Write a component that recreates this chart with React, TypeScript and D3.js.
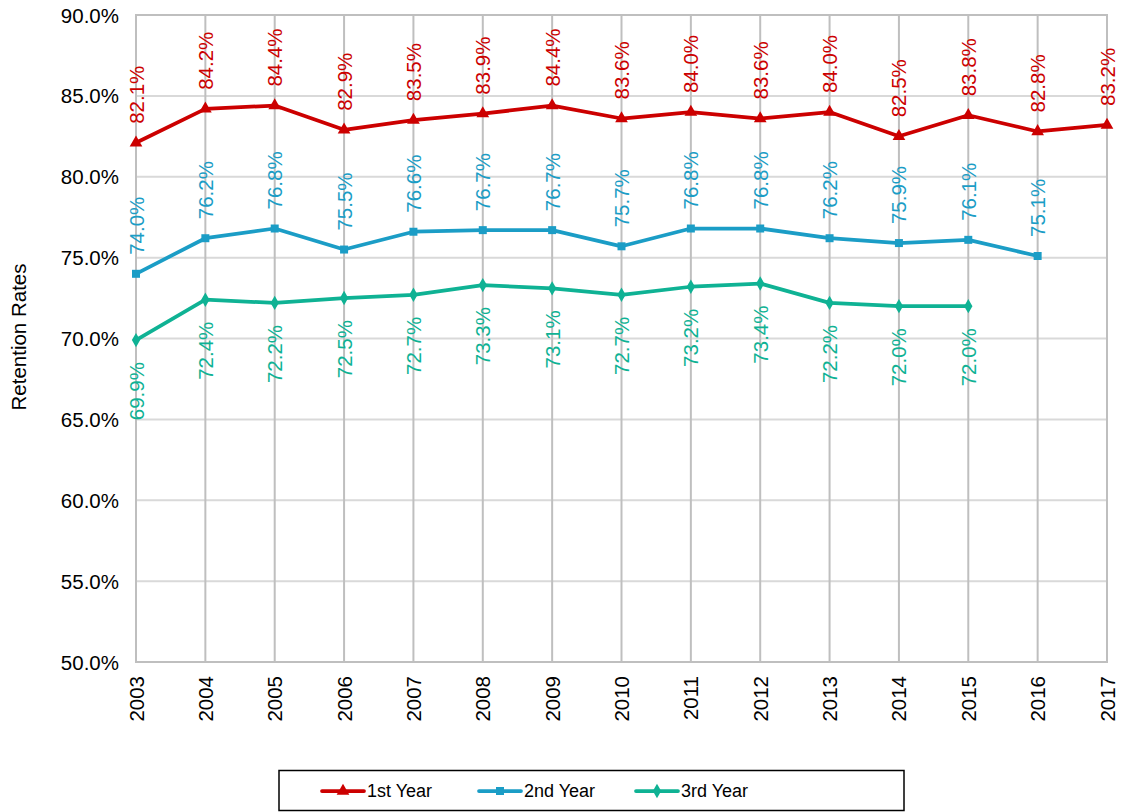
import React from 'react';
import * as d3 from 'd3';

const years = [2003, 2004, 2005, 2006, 2007, 2008, 2009, 2010, 2011, 2012, 2013, 2014, 2015, 2016, 2017];
const firstYear = [82.1, 84.2, 84.4, 82.9, 83.5, 83.9, 84.4, 83.6, 84.0, 83.6, 84.0, 82.5, 83.8, 82.8, 83.2];
const secondYear = [74.0, 76.2, 76.8, 75.5, 76.6, 76.7, 76.7, 75.7, 76.8, 76.8, 76.2, 75.9, 76.1, 75.1];
const thirdYear = [69.9, 72.4, 72.2, 72.5, 72.7, 73.3, 73.1, 72.7, 73.2, 73.4, 72.2, 72.0, 72.0];
const yTicks = [50, 55, 60, 65, 70, 75, 80, 85, 90];

const width = 1125;
const height = 812;
const margin = { top: 15, right: 18, bottom: 150, left: 136 };
const font = '"Liberation Sans", Arial, sans-serif';

type Series = {
  name: string;
  values: number[];
  color: string;
  marker: 'triangle' | 'square' | 'diamond';
  labelPos: 'above' | 'below';
};

const series: Series[] = [
  { name: '1st Year', values: firstYear, color: '#CC0000', marker: 'triangle', labelPos: 'above' },
  { name: '2nd Year', values: secondYear, color: '#1B9DC6', marker: 'square', labelPos: 'above' },
  { name: '3rd Year', values: thirdYear, color: '#0FB294', marker: 'diamond', labelPos: 'below' },
];

const symbolFor = (m: Series['marker']) => {
  if (m === 'triangle') return d3.symbol(d3.symbolTriangle, 70)();
  if (m === 'square') return d3.symbol(d3.symbolSquare, 64)();
  return d3.symbol(d3.symbolDiamond, 60)();
};

const App: React.FC = () => {
  const innerW = width - margin.left - margin.right;
  const innerH = height - margin.top - margin.bottom;

  const x = d3.scalePoint<number>().domain(years).range([0, innerW]);
  const y = d3.scaleLinear().domain([50, 90]).range([innerH, 0]);

  const line = d3
    .line<number>()
    .x((_, i) => x(years[i]) ?? 0)
    .y(d => y(d));

  return (
    <div style={{ position: 'absolute', left: 0, top: 0 }}>
      <svg width={width} height={height} style={{ display: 'block', background: '#fff' }}>
        <g transform={`translate(${margin.left},${margin.top})`} fontFamily={font}>
          {/* horizontal grid */}
          {yTicks.map(t => (
            <line key={`h${t}`} x1={0} x2={innerW} y1={y(t)} y2={y(t)} stroke="#D9D9D9" strokeWidth={2} />
          ))}
          {/* vertical grid */}
          {years.map(yr => (
            <line key={`v${yr}`} x1={x(yr)} x2={x(yr)} y1={0} y2={innerH} stroke="#BFBFBF" strokeWidth={2} />
          ))}
          <rect x={0} y={0} width={innerW} height={innerH} fill="none" stroke="#BFBFBF" strokeWidth={2} />

          {/* y tick labels */}
          {yTicks.map(t => (
            <text key={`yt${t}`} x={-17} y={y(t)} textAnchor="end" dominantBaseline="central" fontSize={20.5} fill="#000">
              {d3.format('.1f')(t)}%
            </text>
          ))}
          {/* x tick labels */}
          {years.map(yr => (
            <text
              key={`xt${yr}`}
              transform={`translate(${x(yr)},${innerH + 14}) rotate(-90)`}
              textAnchor="end"
              dominantBaseline="central"
              fontSize={20.5}
              fill="#000"
            >
              {yr}
            </text>
          ))}

          {/* lines */}
          {series.map(s => (
            <path key={s.name} d={line(s.values) ?? ''} fill="none" stroke={s.color} strokeWidth={3.75} strokeLinejoin="round" />
          ))}
          {/* markers */}
          {series.map(s =>
            s.values.map((v, i) => (
              <path key={`${s.name}-m${i}`} d={symbolFor(s.marker) ?? ''} transform={`translate(${x(years[i])},${y(v)})`} fill={s.color} />
            ))
          )}
          {/* data labels */}
          {series.map(s =>
            s.values.map((v, i) => {
              const py = y(v);
              const above = s.labelPos === 'above';
              return (
                <text
                  key={`${s.name}-l${i}`}
                  transform={`translate(${x(years[i])},${above ? py - 19 : py + 22}) rotate(-90)`}
                  textAnchor={above ? 'start' : 'end'}
                  dominantBaseline="central"
                  fontSize={20.5}
                  fill={s.color}
                >
                  {v.toFixed(1)}%
                </text>
              );
            })
          )}
        </g>

        {/* y axis title */}
        <text
          transform={`translate(18,337) rotate(-90)`}
          textAnchor="middle"
          dominantBaseline="central"
          fontFamily={font}
          fontSize={20.5}
          fill="#000"
        >
          Retention Rates
        </text>

        {/* legend */}
        <g fontFamily={font}>
          <rect x={279} y={770.5} width={625} height={40} fill="#fff" stroke="#000" strokeWidth={1.5} />
          {series.map((s, i) => {
            const lx = 322 + i * 157;
            const ly = 791;
            return (
              <g key={`lg${s.name}`}>
                <line x1={lx} x2={lx + 42} y1={ly} y2={ly} stroke={s.color} strokeWidth={3.75} strokeLinecap="round" />
                <path d={symbolFor(s.marker) ?? ''} transform={`translate(${lx + 21},${ly})`} fill={s.color} />
                <text x={lx + 45} y={ly} dominantBaseline="central" fontSize={18} fill="#000">
                  {s.name}
                </text>
              </g>
            );
          })}
        </g>
      </svg>
    </div>
  );
};

export default App;
